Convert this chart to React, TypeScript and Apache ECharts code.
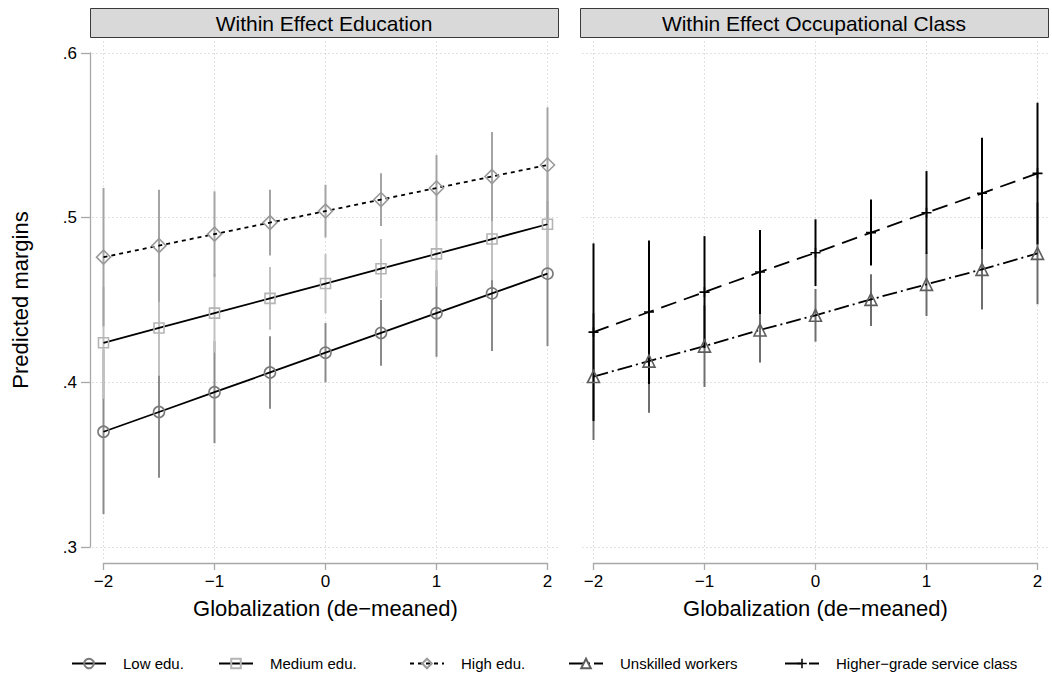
import React, { useEffect, useRef } from "react";
import * as echarts from "echarts";

// ---------- data ----------
const xValues = [-2, -1.5, -1, -0.5, 0, 0.5, 1, 1.5, 2];
const xTicks = [-2, -1, 0, 1, 2];
const yTicks = [0.3, 0.4, 0.5, 0.6];

const panelTitles = ["Within Effect Education", "Within Effect Occupational Class"];

const lowEdu = [0.370, 0.382, 0.394, 0.406, 0.418, 0.430, 0.442, 0.454, 0.466];
const lowEduLo = [0.320, 0.342, 0.363, 0.384, 0.400, 0.410, 0.4155, 0.419, 0.422];
const lowEduHi = [0.420, 0.422, 0.425, 0.428, 0.436, 0.450, 0.468, 0.489, 0.510];

const medEdu = [0.424, 0.433, 0.442, 0.451, 0.460, 0.469, 0.478, 0.487, 0.496];
const medEduLo = [0.390, 0.404, 0.418, 0.432, 0.442, 0.451, 0.458, 0.462, 0.465];
const medEduHi = [0.458, 0.462, 0.466, 0.470, 0.478, 0.487, 0.498, 0.512, 0.527];

const highEdu = [0.476, 0.483, 0.490, 0.497, 0.504, 0.511, 0.518, 0.525, 0.532];
const highEduLo = [0.434, 0.449, 0.464, 0.477, 0.488, 0.495, 0.498, 0.498, 0.497];
const highEduHi = [0.518, 0.517, 0.516, 0.517, 0.520, 0.527, 0.538, 0.552, 0.567];

const unskilled = [0.4035, 0.4129, 0.422, 0.4318, 0.4407, 0.4504, 0.4595, 0.4686, 0.4783];
const unskilledLo = [0.365, 0.3816, 0.3972, 0.412, 0.4247, 0.4342, 0.4403, 0.4443, 0.4474];
const unskilledHi = [0.442, 0.4442, 0.4468, 0.4516, 0.4567, 0.4656, 0.4787, 0.4929, 0.5092];

const service = [0.4305, 0.4427, 0.4548, 0.467, 0.4787, 0.4909, 0.503, 0.5148, 0.5269];
const serviceLo = [0.3765, 0.399, 0.4208, 0.4415, 0.4585, 0.471, 0.478, 0.481, 0.4838];
const serviceHi = [0.4844, 0.4862, 0.4888, 0.4925, 0.499, 0.5111, 0.5283, 0.5486, 0.5698];

// ---------- layout / style ----------
const FONT = "'Liberation Sans', Arial, Helvetica, sans-serif";
const GRID_TOP = 53;
const GRID_H = 494;
const GRID_W = 444;
const LEFTS = [103.5, 593.5];
const X_MIN = -2, X_MAX = 2, Y_MIN = 0.3, Y_MAX = 0.6;
const X_PAD = 0.1;
const Y_PAD = 0.007;

const fmtX = (v: number) => (v < 0 ? "\u2212" + Math.abs(v) : String(v));
const fmtY = (v: number) => v.toFixed(1).replace(/^0/, "");

const PLUS = "path://M4.2,0H5.8V4.2H10V5.8H5.8V10H4.2V5.8H0V4.2H4.2Z";

function ciSeries(name: string, axis: number, lo: number[], hi: number[], color: string) {
  return {
    type: "custom",
    name,
    xAxisIndex: axis,
    yAxisIndex: axis,
    silent: true,
    data: xValues.map((x, i) => [x, lo[i], hi[i]]),
    encode: { x: 0, y: [1, 2] },
    renderItem: (_p: any, api: any) => {
      const a = api.coord([api.value(0), api.value(1)]);
      const b = api.coord([api.value(0), api.value(2)]);
      return {
        type: "line",
        shape: { x1: a[0], y1: a[1], x2: b[0], y2: b[1] },
        style: { stroke: color, lineWidth: 2 },
      };
    },
  };
}

function lineSeries(
  name: string,
  axis: number,
  vals: number[],
  symbol: string,
  size: number,
  markerColor: string,
  dash: any,
  filled = false
) {
  return {
    type: "line",
    name,
    xAxisIndex: axis,
    yAxisIndex: axis,
    data: xValues.map((x, i) => [x, vals[i]]),
    symbol,
    symbolSize: size,
    showSymbol: true,
    lineStyle: { color: "#000", width: 1.8, type: dash },
    itemStyle: filled
      ? { color: markerColor, borderWidth: 0 }
      : { color: "transparent", borderColor: markerColor, borderWidth: 1.6 },
    emphasis: { disabled: true },
    z: 3,
  };
}

export default function App() {
  const ref = useRef<HTMLDivElement>(null);

  useEffect(() => {
    document.body.style.margin = "0";
    if (!ref.current) return;
    const chart = echarts.init(ref.current, undefined, { renderer: "svg" });

    const grids: any[] = [];
    const xAxes: any[] = [];
    const yAxes: any[] = [];
    const xPadPx = (X_PAD * GRID_W) / (X_MAX - X_MIN);
    const yPadPx = (Y_PAD * GRID_H) / (Y_MAX - Y_MIN);
    const gridLine = { show: true, lineStyle: { color: "#c4c4c4", width: 1, type: [1, 3] } };

    LEFTS.forEach((left, p) => {
      // background grid: dotted gridlines of the plot region
      grids.push({ left: left - xPadPx, top: GRID_TOP - yPadPx, width: GRID_W + 2 * xPadPx, height: GRID_H + 2 * yPadPx });
      xAxes.push({
        type: "value", gridIndex: grids.length - 1, min: X_MIN - X_PAD, max: X_MAX + X_PAD,
        axisLine: { show: false, onZero: false }, axisLabel: { show: false },
        axisTick: { show: false, customValues: xTicks },
        splitLine: gridLine,
      });
      yAxes.push({
        type: "value", gridIndex: grids.length - 1, min: Y_MIN - Y_PAD, max: Y_MAX + Y_PAD,
        axisLine: { show: false, onZero: false }, axisLabel: { show: false },
        axisTick: { show: false, customValues: yTicks },
        splitLine: gridLine,
      });
      // main grid with axes
      grids.push({ left, top: GRID_TOP, width: GRID_W, height: GRID_H });
      xAxes.push({
        type: "value", gridIndex: grids.length - 1, min: X_MIN, max: X_MAX, interval: 1,
        offset: 16,
        axisLine: { show: true, onZero: false, lineStyle: { color: "#a8a8a8", width: 1.3 } },
        axisTick: { show: true, length: 7, lineStyle: { color: "#a8a8a8", width: 1.3 } },
        axisLabel: { color: "#000", fontSize: 17, fontFamily: FONT, margin: 10, formatter: fmtX },
        splitLine: { show: false },
        name: "Globalization (de\u2212meaned)",
        nameLocation: "middle",
        nameGap: 34,
        nameTextStyle: { color: "#000", fontSize: 22, fontFamily: FONT },
      });
      yAxes.push({
        type: "value", gridIndex: grids.length - 1, min: Y_MIN, max: Y_MAX, interval: 0.1,
        show: p === 0,
        offset: 13.5,
        axisLine: { show: p === 0, onZero: false, lineStyle: { color: "#a8a8a8", width: 1.3 } },
        axisTick: { show: p === 0, length: 9, lineStyle: { color: "#a8a8a8", width: 1.3 } },
        axisLabel: { show: p === 0, color: "#000", fontSize: 17, fontFamily: FONT, margin: 13, formatter: fmtY },
        splitLine: { show: false },
        name: p === 0 ? "Predicted margins" : "",
        nameLocation: "middle",
        nameGap: 59,
        nameTextStyle: { color: "#000", fontSize: 22, fontFamily: FONT },
      });
    });

    const series: any[] = [
      ciSeries("Low edu. CI", 1, lowEduLo, lowEduHi, "#8a8a8a"),
      ciSeries("Medium edu. CI", 1, medEduLo, medEduHi, "#c0c0c0"),
      ciSeries("High edu. CI", 1, highEduLo, highEduHi, "#a4a4a4"),
      ciSeries("Unskilled workers CI", 3, unskilledLo, unskilledHi, "#6e6e6e"),
      ciSeries("Higher-grade service class CI", 3, serviceLo, serviceHi, "#000000"),
      lineSeries("Low edu.", 1, lowEdu, "circle", 11, "#7a7a7a", "solid"),
      lineSeries("Medium edu.", 1, medEdu, "rect", 10, "#b4b4b4", "solid"),
      lineSeries("High edu.", 1, highEdu, "diamond", 14, "#999999", [4, 4]),
      lineSeries("Unskilled workers", 3, unskilled, "triangle", 12, "#5e5e5e", [15, 4, 2, 4]),
      lineSeries("Higher-grade service class", 3, service, PLUS, 10, "#000000", [16, 8], true),
    ];

    const legendItems = [
      { name: "Low edu.", left: 71 },
      { name: "Medium edu.", left: 218 },
      { name: "High edu.", left: 409 },
      { name: "Unskilled workers", left: 568 },
      { name: "Higher-grade service class", left: 784 },
    ];
    const legends = legendItems.map((it) => ({
      data: [it.name],
      left: it.left,
      top: 656,
      padding: 0,
      orient: "horizontal",
      itemWidth: 34,
      itemHeight: 12,
      selectedMode: false,
      formatter: (n: string) => "{g|}" + n.replace("-", "\u2212"),
      textStyle: {
        color: "#000", fontSize: 15, fontFamily: FONT,
        rich: { g: { width: 12 } },
      },
    }));

    const graphic: any[] = [];
    LEFTS.forEach((left, p) => {
      const x0 = left - 13.5;
      const x1 = left + GRID_W + 10.5;
      graphic.push({
        type: "rect",
        shape: { x: x0 + 0.5, y: 8.5, width: x1 - x0, height: 29 },
        style: { fill: "#d9d9d9", stroke: "#3a3a3a", lineWidth: 1 },
        silent: true,
      });
      graphic.push({
        type: "text",
        x: (x0 + x1) / 2,
        y: 23,
        style: {
          text: panelTitles[p],
          fill: "#000",
          fontSize: 21,
          fontFamily: FONT,
          align: "center",
          verticalAlign: "middle",
        },
        silent: true,
      });
    });

    chart.setOption({
      animation: false,
      backgroundColor: "#ffffff",
      grid: grids,
      xAxis: xAxes,
      yAxis: yAxes,
      legend: legends,
      graphic,
      series,
    });

    return () => chart.dispose();
  }, []);

  return <div ref={ref} style={{ width: 1052, height: 675 }} />;
}
